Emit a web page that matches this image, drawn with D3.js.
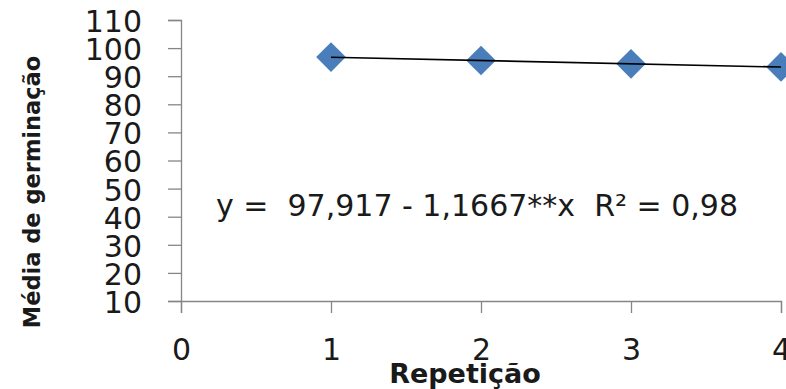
<!DOCTYPE html>
<html>
<head>
<meta charset="utf-8">
<script src="https://cdn.jsdelivr.net/npm/d3@7"></script>
<style>
  html, body { margin: 0; padding: 0; background: #fff; }
  svg { display: block; }
</style>
</head>
<body>
<svg id="chart" width="786" height="389"></svg>
<script>
// Germination means by repetition, with linear fit
const repeticoes = [1, 2, 3, 4];
const mediaGerminacao = [96.8, 95.6, 94.4, 93.3];
const xTicks = [0, 1, 2, 3, 4];
const yTicks = [10, 20, 30, 40, 50, 60, 70, 80, 90, 100, 110];
const fitIntercept = 97.917;
const fitSlope = -1.1667;
const equationLabel = "y =  97,917 - 1,1667**x  R² = 0,98";
const xTitle = "Repetição";
const yTitle = "Média de germinação";

const svg = d3.select("#chart");
const axisColor = "#868686";
const textColor = "#1a1a1a";

const x = d3.scaleLinear().domain([0, 4]).range([181, 781]);
const y = d3.scaleLinear().domain([10, 110]).range([301, 20]);

// Y axis
const yAxis = d3.axisLeft(y).tickValues(yTicks).tickSize(13).tickPadding(26).tickFormat(d3.format("d"));
const gy = svg.append("g").attr("transform", `translate(${x(0)},0)`).call(yAxis);
gy.select(".domain").attr("stroke", axisColor).attr("stroke-width", 1.3);
gy.selectAll(".tick line").attr("stroke", axisColor).attr("stroke-width", 1.3);
gy.selectAll(".tick text")
  .attr("fill", textColor)
  .attr("font-family", "DejaVu Sans")
  .attr("font-size", 30)
  .attr("dy", "0.38em");

// X axis
const xAxis = d3.axisBottom(x).tickValues(xTicks).tickSize(12).tickPadding(47).tickFormat(d3.format("d"));
const gx = svg.append("g").attr("transform", `translate(0,${y(10)})`).call(xAxis);
gx.select(".domain").attr("stroke", axisColor).attr("stroke-width", 1.3);
gx.selectAll(".tick line").attr("stroke", axisColor).attr("stroke-width", 1.3);
gx.selectAll(".tick text")
  .attr("fill", textColor)
  .attr("font-family", "DejaVu Sans")
  .attr("font-size", 30)
  .attr("dy", "0");

// Diamond markers
const diamond = d3.symbol().type(d3.symbolSquare).size(440);
svg.append("g").selectAll("path")
  .data(repeticoes.map((r, i) => ({ r, v: mediaGerminacao[i] })))
  .join("path")
  .attr("d", diamond)
  .attr("transform", d => `translate(${x(d.r)},${y(d.v)}) rotate(45)`)
  .attr("fill", "#4A7EBB");

// Linear trend line
const xs = d3.extent(repeticoes);
svg.append("line")
  .attr("x1", x(xs[0])).attr("y1", y(fitIntercept + fitSlope * xs[0]))
  .attr("x2", x(xs[1])).attr("y2", y(fitIntercept + fitSlope * xs[1]))
  .attr("stroke", "#000").attr("stroke-width", 1.6);

// Equation
svg.append("text")
  .attr("x", 216).attr("y", 216)
  .attr("font-family", "DejaVu Sans").attr("font-size", 30)
  .attr("fill", textColor)
  .attr("xml:space", "preserve")
  .style("white-space", "pre")
  .text(equationLabel);

// Axis titles
svg.append("text")
  .attr("x", 465).attr("y", 383)
  .attr("text-anchor", "middle")
  .attr("font-family", "DejaVu Sans").attr("font-weight", "bold").attr("font-size", 27)
  .attr("fill", textColor)
  .text(xTitle);

svg.append("text")
  .attr("transform", "translate(40,192) rotate(-90)")
  .attr("text-anchor", "middle")
  .attr("font-family", "DejaVu Sans").attr("font-weight", "bold").attr("font-size", 22.5)
  .attr("fill", textColor)
  .text(yTitle);
</script>
</body>
</html>
